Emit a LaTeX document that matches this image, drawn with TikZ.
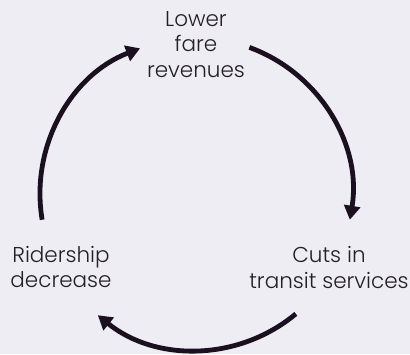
\documentclass[tikz,border=0pt]{standalone}
\usepackage{fontspec}
\setmainfont{Poppins Light}
\usetikzlibrary{arrows.meta}
\definecolor{bg}{HTML}{EFEDF4}
\definecolor{ink}{HTML}{1A1020}
\definecolor{txt}{HTML}{222024}
\begin{document}
\begin{tikzpicture}[x=1pt,y=1pt,
  lbl/.style={align=center,inner sep=0pt,text=txt,font=\fontsize{21.5}{25.5}\selectfont},
  cyc/.style={draw=ink,line width=4.8pt,-{Triangle[width=16pt,length=14pt]}}]
\fill[bg] (0,0) rectangle (410,354);
\useasboundingbox (0,0) rectangle (410,354);
\coordinate (c) at (196,160);
\node[lbl] (top) at (196,309.5) {Lower\\fare\\revenues};
\node[lbl] (right) at (329,86.5) {Cuts in\\transit services};
\node[lbl] (left) at (61,87) {Ridership\\decrease};
\draw[cyc] ([shift={(70:156)}]c) arc[start angle=70,end angle=-9.5,radius=156];
\draw[cyc] ([shift={(-50.2:156)}]c) arc[start angle=-50.2,end angle=-129,radius=156];
\draw[cyc] ([shift={(189.5:156)}]c) arc[start angle=189.5,end angle=111,radius=156];
\end{tikzpicture}
\end{document}
